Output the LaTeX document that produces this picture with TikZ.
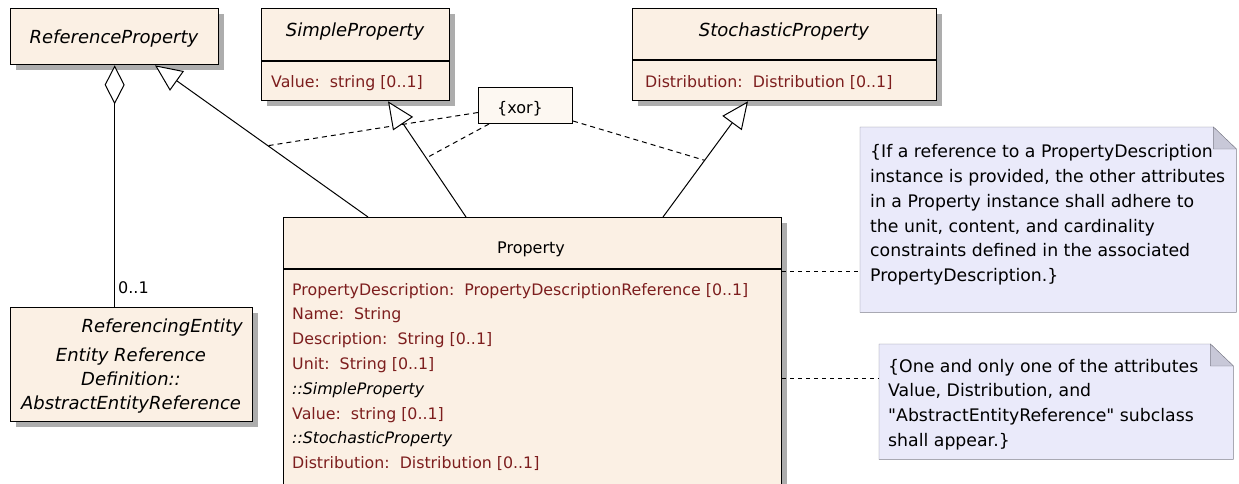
\documentclass[tikz,border=0pt]{standalone}
\usepackage{fontspec}
\setmainfont{DejaVu Sans}
\usetikzlibrary{arrows.meta,shadows,calc}
\definecolor{classfill}{RGB}{251,240,228}
\definecolor{attrred}{RGB}{125,30,30}
\definecolor{notefill}{RGB}{234,234,250}
\definecolor{noteline}{RGB}{128,128,140}
\definecolor{foldfill}{RGB}{200,200,216}
\begin{document}
\begin{tikzpicture}[x=1pt, y=-1pt, line join=miter,
  class node/.style={draw=black, fill=classfill, line width=1.3pt, anchor=north west, inner sep=0pt,
    drop shadow={shadow xshift=5pt, shadow yshift=-5pt, fill=black!32, opacity=1}},
  class name/.style={font=\fontsize{18}{24.3}\selectfont\itshape, anchor=base, inner sep=0pt},
  attr/.style={font=\fontsize{15.8}{24.8}\selectfont, text=attrred, align=left, inner sep=0pt},
  note node/.style={anchor=north west, inner sep=0pt},
  note text/.style={font=\fontsize{17.3}{24.8}\selectfont, align=left, anchor=north west, inner sep=0pt},
  gen/.style={line width=1pt, -{Triangle[open, fill=white, length=27pt, width=24pt]}},
  xor link/.style={line width=1pt, dash pattern=on 5pt off 4pt},
  note link/.style={line width=1pt, dash pattern=on 4pt off 4pt}]
\clip (0,0) rectangle (1239,483);
% classes
\node[class node, minimum width=208, minimum height=56] (refprop) at (10,8) {};
\node[class name] (refprop-name) at (114,43) {ReferenceProperty};
\node[class node, minimum width=188, minimum height=92] (simple) at (261,8) {};
\node[class name] (simple-name) at (355,36) {SimpleProperty};
\draw[line width=1.3pt] ([yshift=-53pt]simple.north west) -- ([yshift=-53pt]simple.north east);
\node[attr, anchor=base west] (simple-attr) at (271,87) {Value:\ \ string [0..1]};
\node[class node, minimum width=304, minimum height=92] (stoch) at (632,8) {};
\node[class name] (stoch-name) at (784,36) {StochasticProperty};
\draw[line width=1.3pt] ([yshift=-52pt]stoch.north west) -- ([yshift=-52pt]stoch.north east);
\node[attr, anchor=base west] (stoch-attr) at (645,87) {Distribution:\ \ Distribution [0..1]};
\node[class node, minimum width=498, minimum height=300] (property) at (283,217) {};
\node[class name, font=\fontsize{16}{24}\selectfont] (property-name) at (531,253) {Property};
\draw[line width=1.3pt] ([yshift=-52pt]property.north west) -- ([yshift=-52pt]property.north east);
\node[attr, anchor=north west] (property-attr) at (292,282.8) {PropertyDescription:\ \ PropertyDescriptionReference [0..1]\\
Name:\ \ String\\
Description:\ \ String [0..1]\\
Unit:\ \ String [0..1]\\
{\color{black}\itshape ::SimpleProperty}\\
Value:\ \ string [0..1]\\
{\color{black}\itshape ::StochasticProperty}\\
Distribution:\ \ Distribution [0..1]};
\node[class node, minimum width=242, minimum height=114] (refent) at (10,307) {};
\node[class name, anchor=base east] (refent-name) at (243,332) {ReferencingEntity};
\node[class name, align=center, anchor=north] (refent-def) at (131,347.3) {Entity Reference\\Definition::\\AbstractEntityReference};
\node[draw=black, fill=classfill!50, line width=1pt, anchor=north west, minimum width=94, minimum height=36] (xor) at (478,87) {};
\node[anchor=base west, inner sep=0pt, font=\fontsize{16}{24}\selectfont] (xor-text) at (497,113) {\{xor\}};
% generalizations
\coordinate (gr-bot) at ([xshift=85pt]property.north west);
\coordinate (gr-top) at ([xshift=145pt]refprop.south west);
\coordinate (gs-bot) at ([xshift=183pt]property.north west);
\coordinate (gs-top) at ([xshift=127pt]simple.south west);
\coordinate (gt-bot) at ([xshift=380pt]property.north west);
\coordinate (gt-top) at ([xshift=116pt]stoch.south west);
\draw[xor link] ([yshift=-7pt]xor.west) -- ($(gr-bot)!0.47!(gr-top)$);
\draw[xor link] ([xshift=11pt]xor.south west) -- ($(gs-bot)!0.51!(gs-top)$);
\draw[xor link] ([yshift=3pt]xor.south east) -- ($(gt-bot)!0.49!(gt-top)$);
\draw[gen] (gr-bot) -- (gr-top);
\draw[gen] (gs-bot) -- (gs-top);
\draw[gen] (gt-bot) -- (gt-top);
% aggregation
\draw[line width=1pt, {Diamond[open, fill=white, length=39pt, width=20pt]}-] (refprop.south) -- (refprop.south |- refent.north);
\node[anchor=base west, inner sep=0pt, font=\fontsize{16}{24}\selectfont] (mult) at (118,293) {0..1};
% notes
\node[note node, minimum width=376, minimum height=185] (note1) at (860,127) {};
\draw[noteline, fill=notefill] (note1.north west) -- ([xshift=-23pt]note1.north east) -- ([yshift=-22pt]note1.north east) -- (note1.south east) -- (note1.south west) -- cycle;
\filldraw[draw=noteline, fill=foldfill] ([xshift=-23pt]note1.north east) -- ([xshift=-23pt,yshift=-22pt]note1.north east) -- ([yshift=-22pt]note1.north east) -- cycle;
\node[note text] (note1-text) at (870,144.4) {\{If a reference to a PropertyDescription\\
instance is provided, the other attributes\\
in a Property instance shall adhere to\\
the unit, content, and cardinality\\
constraints defined in the associated\\
PropertyDescription.\}};
\node[note node, minimum width=354, minimum height=115] (note2) at (879,344) {};
\draw[noteline, fill=notefill] (note2.north west) -- ([xshift=-23pt]note2.north east) -- ([yshift=-22pt]note2.north east) -- (note2.south east) -- (note2.south west) -- cycle;
\filldraw[draw=noteline, fill=foldfill] ([xshift=-23pt]note2.north east) -- ([xshift=-23pt,yshift=-22pt]note2.north east) -- ([yshift=-22pt]note2.north east) -- cycle;
\node[note text] (note2-text) at (888,358.8) {\{One and only one of the attributes\\
Value, Distribution, and\\
\textquotedbl AbstractEntityReference\textquotedbl\ subclass\\
shall appear.\}};
\draw[note link] ([yshift=-54pt]property.north east) -- ([yshift=-144pt]note1.north west);
\draw[note link] ([yshift=-161pt]property.north east) -- ([yshift=-34pt]note2.north west);
\end{tikzpicture}
\end{document}
